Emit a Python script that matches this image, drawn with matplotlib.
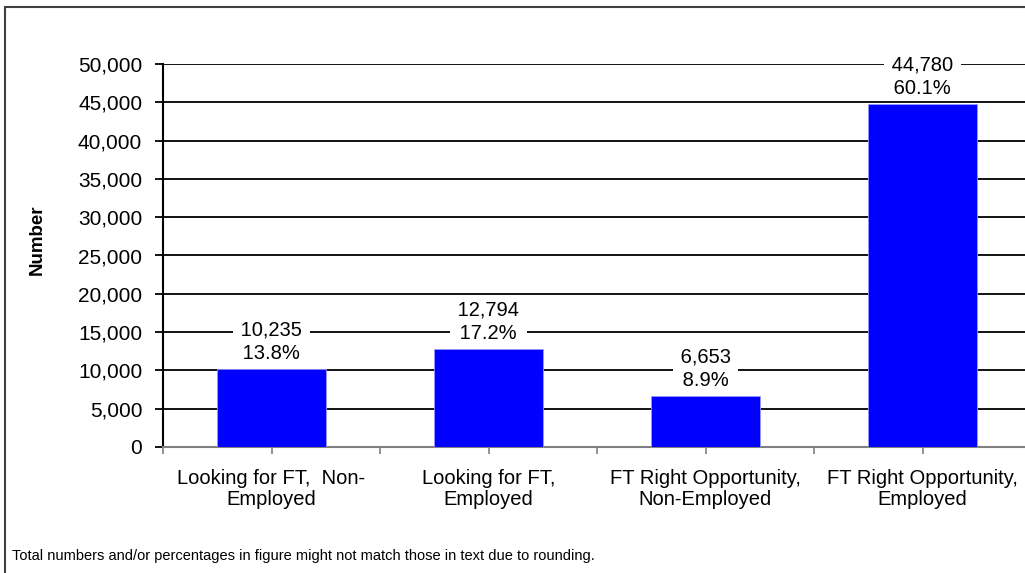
import matplotlib.pyplot as plt
from matplotlib.patches import Rectangle
from matplotlib.ticker import FuncFormatter, MultipleLocator

plt.rcParams["font.family"] = ["Liberation Sans", "DejaVu Sans"]

CATEGORIES = [
    "Looking for FT,  Non-\nEmployed",
    "Looking for FT,\nEmployed",
    "FT Right Opportunity,\nNon-Employed",
    "FT Right Opportunity,\nEmployed",
]
COUNTS = [10235, 12794, 6653, 44780]
PERCENTS = [13.8, 17.2, 8.9, 60.1]
FOOTNOTE = "Total numbers and/or percentages in figure might not match those in text due to rounding."

fig = plt.figure(figsize=(10.25, 5.73), dpi=100)

# outer frame, runs off the right and bottom of the picture
fig.patches.append(
    Rectangle((4.5 / 1025, -0.05), 1.2, 1 - 6.5 / 573 + 0.05,
              transform=fig.transFigure, fill=False,
              edgecolor="#404040", linewidth=1.5)
)

ax = fig.add_axes([163 / 1025, 1 - 447 / 573, 868 / 1025, 383 / 573])
x = list(range(len(CATEGORIES)))
ax.bar(x, COUNTS, width=0.505, color="#0000FF", edgecolor="#9999FF",
       linewidth=0.6, zorder=3)

# label boxes sit between the grid and the bars so they only blank out grid lines
# (spaces give the extra horizontal gap, the box pad stays small vertically)
for xi, n, p in zip(x, COUNTS, PERCENTS):
    ax.annotate(f" {n:,} \n {p:.1f}% ", (xi, n), xytext=(0, 4),
                textcoords="offset points", ha="center", va="bottom",
                fontsize=14.5, linespacing=1.3, zorder=2,
                bbox=dict(boxstyle="square,pad=0.1", fc="white", ec="none"))

ax.set_xlim(-0.5, len(CATEGORIES) - 0.5)
ax.set_ylim(0, 50000)
ax.yaxis.set_major_locator(MultipleLocator(5000))
ax.yaxis.set_major_formatter(FuncFormatter(lambda v, _: f"{int(v):,}"))
ax.grid(axis="y", color="black", linewidth=1.3, zorder=1)
ax.set_axisbelow(True)

ax.set_xticks(x)
ax.set_xticklabels(CATEGORIES, fontsize=14.5, linespacing=1.15)
ax.set_xticks([i + 0.5 for i in range(-1, len(CATEGORIES))], minor=True)
ax.tick_params(axis="x", which="both", direction="out", length=5,
               color="#808080", width=1.2, pad=11)
ax.tick_params(axis="y", direction="out", length=6, color="black",
               width=1.3, labelsize=15, pad=9)

for side in ("top", "right"):
    ax.spines[side].set_visible(False)
ax.spines["left"].set_color("black")
ax.spines["left"].set_linewidth(1.5)
ax.spines["bottom"].set_color("#808080")
ax.spines["bottom"].set_linewidth(1.5)

fig.text(37 / 1025, 1 - 240 / 573, "Number", rotation=90, fontsize=13.5,
         fontweight="bold", ha="center", va="center")
fig.text(12 / 1025, 1 - 556 / 573, FOOTNOTE, fontsize=10.5,
         ha="left", va="center")

fig.savefig("out.png", dpi=100)
